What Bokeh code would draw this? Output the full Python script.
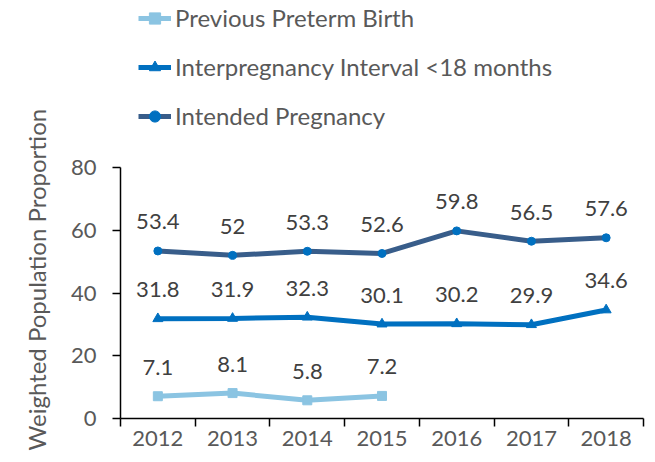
from bokeh.plotting import figure
from bokeh.models import Range1d, FixedTicker, Legend, LegendItem, ColumnDataSource, Title
from bokeh.core.properties import value
from bokeh.embed import file_html
from bokeh.resources import INLINE

years = [2012, 2013, 2014, 2015, 2016, 2017, 2018]
preterm_years = [2012, 2013, 2014, 2015]
preterm = [7.1, 8.1, 5.8, 7.2]
interval = [31.8, 31.9, 32.3, 30.1, 30.2, 29.9, 34.6]
intended = [53.4, 52, 53.3, 52.6, 59.8, 56.5, 57.6]
y_ticks = [0, 20, 40, 60, 80]

FONT = "Lato"
GREY = "#595959"

p = figure(width=647, height=454, output_backend="svg", toolbar_location=None,
           x_range=Range1d(2011.5, 2018.5), y_range=Range1d(0, 133.23),
           min_border_left=120, min_border_right=4, min_border_top=0, min_border_bottom=36)
p.outline_line_color = None
p.xgrid.visible = False
p.ygrid.visible = False

# y axis (line limited to 0..80)
p.yaxis.bounds = (0, 80)
p.yaxis.ticker = FixedTicker(ticks=y_ticks)
p.yaxis.minor_tick_line_color = None
p.yaxis.major_tick_in = 0
p.yaxis.major_tick_out = 8
p.yaxis.major_label_standoff = 16
p.yaxis.major_label_text_font = FONT
p.yaxis.major_label_text_font_size = "22px"
p.yaxis.major_label_text_color = GREY
p.yaxis.axis_line_color = "black"
p.yaxis.axis_line_width = 1.5
p.yaxis.major_tick_line_width = 1.5

# y axis title as a left-side title so it can be positioned
ytitle = Title(text="Weighted Population Proportion", align="left", offset=-32,
               text_font=FONT, text_font_size="24px", text_font_style="normal",
               text_color=GREY, standoff=34)
p.add_layout(ytitle, "left")

# x axis
p.xaxis.ticker = FixedTicker(ticks=years, minor_ticks=[y - 0.5 for y in years] + [2018.5])
p.xaxis.major_tick_line_color = None
p.xaxis.major_tick_in = 0
p.xaxis.major_tick_out = 8
p.xaxis.minor_tick_in = 0
p.xaxis.minor_tick_out = 8
p.xaxis.minor_tick_line_color = "black"
p.xaxis.minor_tick_line_width = 1.5
p.xaxis.major_label_standoff = 4
p.xaxis.major_label_text_font = FONT
p.xaxis.major_label_text_font_size = "22px"
p.xaxis.major_label_text_color = GREY
p.xaxis.axis_line_color = "black"
p.xaxis.axis_line_width = 1.5

c_pre = "#8BC4E2"
c_int = "#0070C0"
c_ind = "#385D8A"
c_ind_m = "#0070C0"

s1 = ColumnDataSource(dict(x=preterm_years, y=preterm, t=[str(v) for v in preterm]))
s2 = ColumnDataSource(dict(x=years, y=interval, t=[str(v) for v in interval]))
s3 = ColumnDataSource(dict(x=years, y=intended, t=[str(v) for v in intended]))

l1 = p.line("x", "y", source=s1, line_color=c_pre, line_width=5)
m1 = p.scatter("x", "y", source=s1, marker="square", size=9, fill_color=c_pre, line_color=c_pre)
l2 = p.line("x", "y", source=s2, line_color=c_int, line_width=5)
m2 = p.scatter("x", "y", source=s2, marker="triangle", size=10, fill_color=c_int, line_color=c_int)
l3 = p.line("x", "y", source=s3, line_color=c_ind, line_width=5)
m3 = p.scatter("x", "y", source=s3, marker="circle", size=8, fill_color=c_ind_m, line_color=c_ind_m)

for s in (s1, s2, s3):
    p.text("x", "y", text="t", source=s, y_offset=-29, text_align="center", text_baseline="middle",
           text_font=value(FONT), text_font_size="22px", text_color="#404040")

legend = Legend(items=[
    LegendItem(label="Previous Preterm Birth", renderers=[l1, m1]),
    LegendItem(label="Interpregnancy Interval <18 months", renderers=[l2, m2]),
    LegendItem(label="Intended Pregnancy", renderers=[l3, m3]),
], location=(18, 288))
legend.border_line_color = None
legend.background_fill_alpha = 0
legend.padding = 0
legend.margin = 0
legend.spacing = 20
legend.glyph_width = 33
legend.glyph_height = 28
legend.label_height = 28
legend.label_standoff = 4
legend.label_text_font = FONT
legend.label_text_font_size = "24px"
legend.label_text_color = GREY
p.add_layout(legend)

open("out.html", "w").write(file_html(p, INLINE))
